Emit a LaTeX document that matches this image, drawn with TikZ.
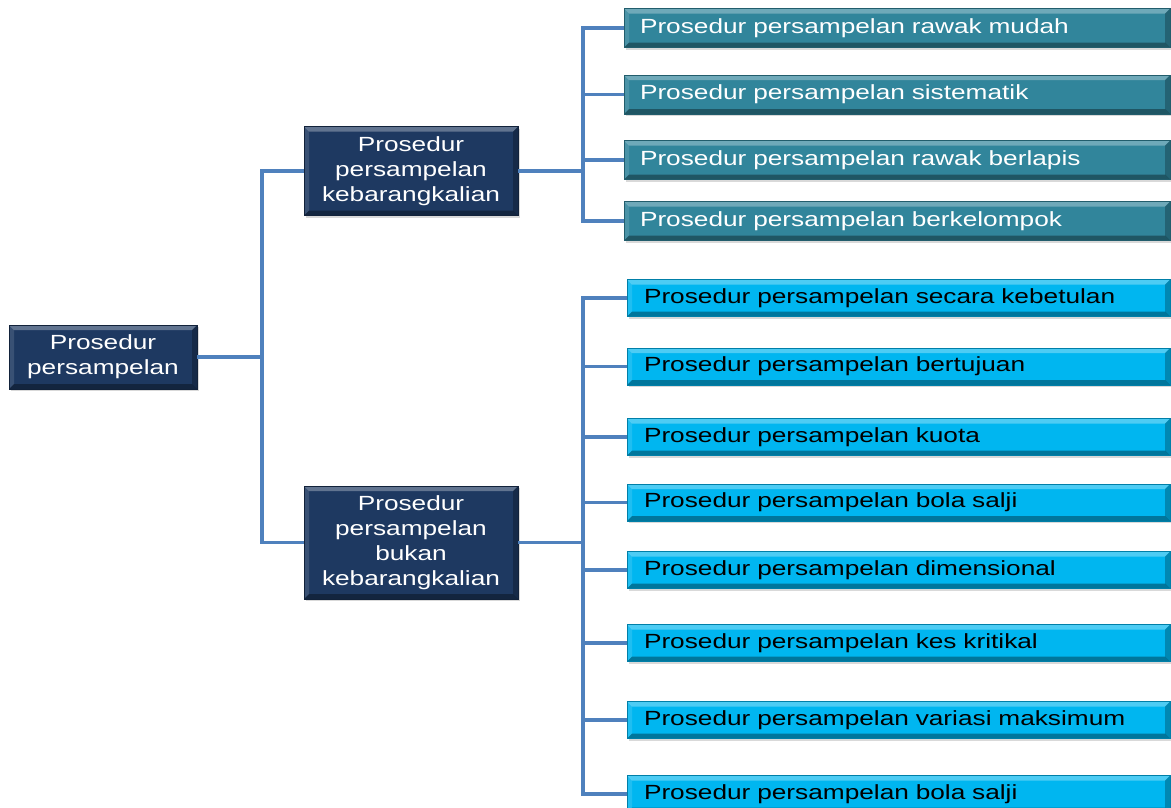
\documentclass[tikz,border=0pt]{standalone}
\usepackage{fontspec}
\setmainfont{Liberation Sans}[FakeStretch=1.28]
\usepackage{xcolor}
\usepackage{tikz}
\usetikzlibrary{shadows}

\definecolor{navybox}{RGB}{30,57,97}
\definecolor{tealbox}{RGB}{49,133,155}
\definecolor{cyanbox}{RGB}{0,182,240}
\definecolor{linkblue}{RGB}{79,129,189}

\tikzset{
  bevel/.style={path picture={
    \coordinate (nw) at (path picture bounding box.north west);
    \coordinate (ne) at (path picture bounding box.north east);
    \coordinate (sw) at (path picture bounding box.south west);
    \coordinate (se) at (path picture bounding box.south east);
    \fill[white,opacity=.30] (nw) -- (ne) -- ([shift={(-5pt,-5pt)}]ne) -- ([shift={(5pt,-5pt)}]nw) -- cycle;
    \fill[white,opacity=.12] (nw) -- ([shift={(5pt,-5pt)}]nw) -- ([shift={(5pt,5pt)}]sw) -- (sw) -- cycle;
    \fill[black,opacity=.35] (sw) -- (se) -- ([shift={(-5pt,5pt)}]se) -- ([shift={(5pt,5pt)}]sw) -- cycle;
    \fill[black,opacity=.25] (ne) -- (se) -- ([shift={(-5pt,5pt)}]se) -- ([shift={(-5pt,-5pt)}]ne) -- cycle;
  }},
  box/.style={bevel, inner sep=0pt, font=\fontsize{20.5}{25}\selectfont,
    drop shadow={shadow xshift=2pt, shadow yshift=-2pt, opacity=.3}},
  headbox/.style={box, fill=navybox, draw=navybox!60!black, text=white, align=center},
  probbox/.style={box, fill=tealbox, draw=tealbox!70!black, text=white,
    minimum height=39pt, text width=514pt, inner xsep=16pt, align=left},
  nonbox/.style={box, fill=cyanbox, draw=cyanbox!70!black, text=black,
    minimum height=37pt, text width=509pt, inner xsep=17pt, align=left},
  link/.style={draw=linkblue, line width=3.5pt}
}

\begin{document}
\begin{tikzpicture}[x=1pt, y=-1pt]
\useasboundingbox (0,0) rectangle (1171,807);
\clip (0,0) rectangle (1171,807);

% Main boxes
\node[headbox, minimum width=188pt, minimum height=64pt] (root) at (103,357) {Prosedur\\persampelan};
\node[headbox, minimum width=214pt, minimum height=89pt] (kb) at (411,171) {Prosedur\\persampelan\\kebarangkalian};
\node[headbox, minimum width=214pt, minimum height=113pt] (bkb) at (411,542.5) {Prosedur\\persampelan\\bukan\\kebarangkalian};

% Probability procedures
\node[probbox] (rawak) at (897,28) {Prosedur persampelan rawak mudah};
\node[probbox] (sistem) at (897,94.5) {Prosedur persampelan sistematik};
\node[probbox] (lapis) at (897,160) {Prosedur persampelan rawak berlapis};
\node[probbox] (kelompok) at (897,221) {Prosedur persampelan berkelompok};

% Non-probability procedures
\node[nonbox] (kebetulan) at (898.5,298) {Prosedur persampelan secara kebetulan};
\node[nonbox] (tujuan) at (898.5,366.5) {Prosedur persampelan bertujuan};
\node[nonbox] (kuota) at (898.5,437) {Prosedur persampelan kuota};
\node[nonbox] (bola) at (898.5,502.5) {Prosedur persampelan bola salji};
\node[nonbox] (dimensi) at (898.5,570) {Prosedur persampelan dimensional};
\node[nonbox] (kritikal) at (898.5,643) {Prosedur persampelan kes kritikal};
\node[nonbox] (variasi) at (898.5,720) {Prosedur persampelan variasi maksimum};
\node[nonbox] (bolasalji) at (898.5,794) {Prosedur persampelan bola salji};

% Connectors
\coordinate (j0) at (262,357);
\coordinate (j1) at (583,171);
\coordinate (j2) at (583,542.5);

\draw[link] (root.east) -- (j0);
\draw[link] (j0) |- (kb.west);
\draw[link] (j0) |- (bkb.west);

\draw[link] (kb.east) -- (j1);
\draw[link] (j1) |- (rawak.west);
\draw[link] (j1) |- (sistem.west);
\draw[link] (j1) |- (lapis.west);
\draw[link] (j1) |- (kelompok.west);

\draw[link] (bkb.east) -- (j2);
\draw[link] (j2) |- (kebetulan.west);
\draw[link] (j2) |- (tujuan.west);
\draw[link] (j2) |- (kuota.west);
\draw[link] (j2) |- (bola.west);
\draw[link] (j2) |- (dimensi.west);
\draw[link] (j2) |- (kritikal.west);
\draw[link] (j2) |- (variasi.west);
\draw[link] (j2) |- (bolasalji.west);
\end{tikzpicture}
\end{document}
